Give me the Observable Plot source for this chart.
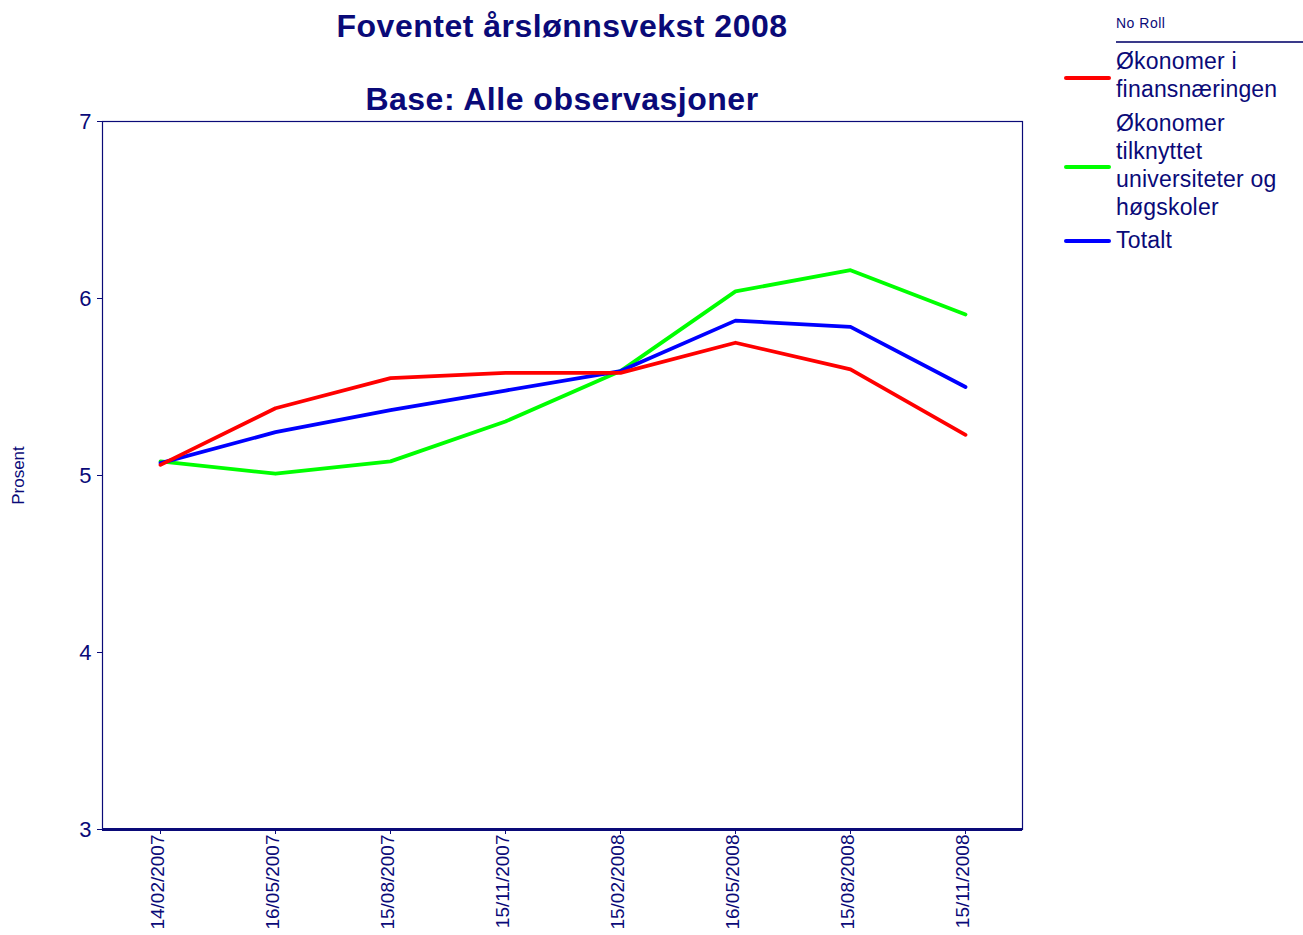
<!DOCTYPE html>
<html>
<head>
<meta charset="utf-8">
<script src="https://cdn.jsdelivr.net/npm/d3@7"></script>
<script src="https://cdn.jsdelivr.net/npm/@observablehq/plot@0.6"></script>
<style>
  body { margin: 0; background: #fff; font-family: "Liberation Sans", Arial, sans-serif; }
  #wrap { position: relative; width: 1303px; height: 935px; }
  #chart { position: absolute; left: 0; top: 0; }
  .title { position: absolute; left: 102px; width: 920px; text-align: center; font-weight: bold; font-size: 32px; line-height: 1; letter-spacing: 0.5px; color: #0a0a78; white-space: nowrap; }
  #legend { position: absolute; left: 0; top: 0; width: 1303px; height: 300px; pointer-events: none; }
  .leg-head { position: absolute; left: 1116px; top: 15px; font-size: 14px; letter-spacing: 0.5px; color: #0a0a78; }
  .leg-rule { position: absolute; left: 1116px; top: 41px; width: 187px; height: 2px; background: #3a3a8a; }
  .leg-item { position: absolute; left: 1116px; font-size: 23px; letter-spacing: 0.2px; line-height: 28px; color: #0a0a78; white-space: nowrap; }
  .leg-sw { position: absolute; left: 1064px; width: 47px; height: 4px; border-radius: 2px; }
</style>
</head>
<body>
<div id="wrap">
  <div id="chart"></div>
  <div class="title" style="top:10px">Foventet årslønnsvekst 2008</div>
  <div class="title" style="top:83px">Base: Alle observasjoner</div>
  <div id="legend"></div>
</div>
<script>
const dates = ["14/02/2007","16/05/2007","15/08/2007","15/11/2007","15/02/2008","16/05/2008","15/08/2008","15/11/2008"];
const seriesNames = ["Økonomer i finansnæringen", "Økonomer tilknyttet universiteter og høgskoler", "Totalt"];
const seriesColors = ["#ff0000", "#00ff00", "#0000ff"];
const finans = [5.06, 5.38, 5.55, 5.58, 5.58, 5.75, 5.60, 5.23];
const univ   = [5.08, 5.01, 5.08, 5.305, 5.59, 6.04, 6.16, 5.91];
const total  = [5.07, 5.245, 5.37, 5.48, 5.59, 5.875, 5.84, 5.50];
const yTicks = [3, 4, 5, 6, 7];
const legendLines = [["Økonomer i", "finansnæringen"], ["Økonomer", "tilknyttet", "universiteter og", "høgskoler"], ["Totalt"]];

const seriesValues = [finans, univ, total];
const rows = [];
seriesNames.forEach((s, i) => dates.forEach((d, j) => rows.push({series: s, date: d, value: seriesValues[i][j]})));
const drawOrder = [1, 2, 0];

const navy = "#0a0a78";
const chart = Plot.plot({
  width: 1303,
  height: 935,
  marginLeft: 102,
  marginRight: 281,
  marginTop: 121,
  marginBottom: 106,
  style: {fontFamily: "'Liberation Sans', Arial, sans-serif", background: "#fff", color: navy},
  x: {type: "point", domain: dates, padding: 0.5},
  y: {domain: [3, 7]},
  color: {domain: seriesNames, range: seriesColors},
  marks: [
    Plot.frame({stroke: navy, strokeWidth: 1.2}),
    Plot.axisY({ticks: yTicks, tickSize: 5, tickPadding: 6, fontSize: 22, label: null, stroke: navy, tickFormat: d3.format("d")}),
    Plot.axisX({tickSize: 5, tickFormat: () => "", label: null, stroke: navy}),
    Plot.axisX({tickSize: 0, tickPadding: 5, tickRotate: -90, fontSize: 19, label: null, dx: -3, style: {letterSpacing: "0.5px"}}),
    Plot.ruleY([3], {stroke: navy, strokeWidth: 3}),
    Plot.text(["Prosent"], {frameAnchor: "left", dx: -84, rotate: -90, fontSize: 17, fill: navy, textAnchor: "middle", style: {letterSpacing: "1.4px"}}),
    ...drawOrder.map(i => Plot.line(rows.filter(r => r.series === seriesNames[i]), {
      x: "date", y: "value", stroke: seriesColors[i], strokeWidth: 3.8, strokeLinejoin: "round", strokeLinecap: "round"
    }))
  ]
});
document.getElementById("chart").appendChild(chart);

// legend
const leg = document.getElementById("legend");
leg.innerHTML = '<div class="leg-head">No Roll</div><div class="leg-rule"></div>';
const itemTops = [47, 109, 226];
const swatchY = [76, 165, 239];
legendLines.forEach((lines, i) => {
  const t = document.createElement("div");
  t.className = "leg-item";
  t.style.top = itemTops[i] + "px";
  t.innerHTML = lines.join("<br>");
  leg.appendChild(t);
  const sw = document.createElement("div");
  sw.className = "leg-sw";
  sw.style.top = swatchY[i] + "px";
  sw.style.background = seriesColors[i];
  leg.appendChild(sw);
});
</script>
</body>
</html>
